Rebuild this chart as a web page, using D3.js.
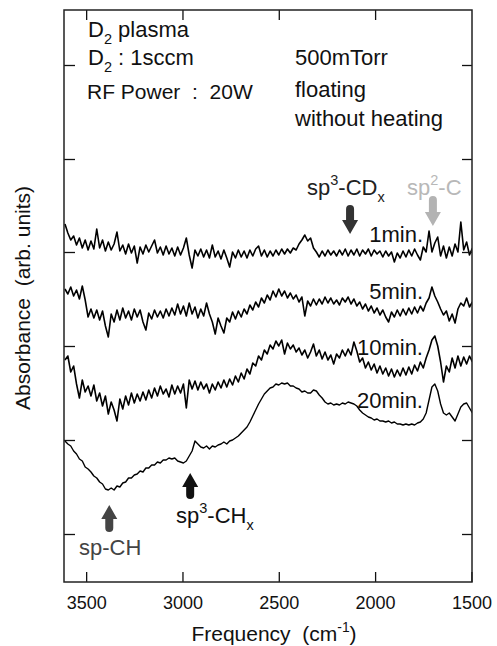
<!DOCTYPE html>
<html><head><meta charset="utf-8">
<script src="https://cdn.jsdelivr.net/npm/d3@7"></script>
<style>body{margin:0;background:#fff} svg{display:block} text{font-family:"Liberation Sans",Arial,Helvetica,sans-serif;white-space:pre}</style>
</head><body><svg id="c" width="497" height="646"></svg>
<script>
// Frequency sample grid (cm^-1), 15 cm^-1 step
const freq = d3.range(142).map(i => 3610 - 15 * i);

// Absorbance (arb. units, offset-stacked)
const a1min = [358,349,342,346,337,344,334,342,332,341,
 333,353,334,342,331,340,332,338,350,331,
 337,328,338,329,336,319,335,328,337,330,
 336,342,329,335,327,336,328,334,326,335,
 327,334,344,327,314,332,326,333,325,332,
 324,337,325,331,323,332,324,315,330,324,
 332,325,331,324,332,326,333,336,326,332,
 325,331,326,332,327,333,328,333,329,334,
 332,338,342,347,341,344,334,330,325,331,
 326,332,327,331,326,332,327,333,326,332,
 327,333,326,332,328,333,326,332,328,331,
 325,331,326,330,320,329,324,331,325,332,
 326,333,327,322,335,330,351,330,339,345,
 326,336,324,335,326,338,330,360,332,340,327,334];
const a5min = [293,288,295,286,292,283,296,282,265,273,
 264,272,262,271,256,245,268,260,272,262,
 274,264,271,262,273,265,272,260,252,269,
 263,272,265,271,264,273,266,274,267,278,
 268,276,266,279,268,275,264,273,266,279,
 268,260,248,264,256,249,264,260,270,263,
 271,265,273,268,277,272,280,275,284,279,
 287,282,291,285,293,286,291,284,289,283,
 287,280,285,266,281,276,283,277,283,278,
 285,279,284,278,282,277,284,280,285,278,
 283,276,280,273,278,271,276,269,274,267,
 272,265,260,270,265,272,266,273,267,274,
 268,275,269,276,271,279,284,295,286,280,
 273,267,271,261,268,259,273,279,276,284,275,280];
const a10min = [222,226,210,216,198,184,202,190,196,186,
 197,181,189,176,186,168,180,172,161,183,
 173,186,177,189,179,188,181,190,182,192,
 184,194,186,196,188,193,185,197,188,196,
 189,198,174,202,193,201,192,200,193,198,
 189,198,192,200,194,202,195,203,197,206,
 200,209,203,213,208,219,216,226,222,232,
 228,237,233,241,236,242,228,239,233,237,
 230,234,227,232,224,230,238,226,232,223,
 230,222,227,218,228,224,232,226,233,227,
 240,231,220,224,214,220,212,218,209,216,
 208,214,206,213,205,212,206,214,207,215,
 208,217,211,220,214,224,232,242,246,236,
 220,200,216,210,224,214,226,216,225,218,226,220];
const a20min = [141,138,136,131,128,123,121,115,113,110,
 106,104,100,98,93,92,94,92,96,95,
 99,100,104,104,107,108,111,110,114,114,
 117,117,120,119,122,122,124,123,124,121,
 120,119,121,126,131,141,138,135,134,136,
 133,136,135,137,138,140,138,141,142,144,
 146,149,152,155,160,166,172,178,183,188,
 191,194,195,198,197,199,198,199,196,196,
 194,193,190,191,189,189,192,191,187,184,
 180,178,179,177,178,177,179,178,180,179,
 178,176,172,169,167,165,164,162,163,161,
 161,160,161,159,160,158,158,157,158,157,
 158,157,159,160,163,169,182,195,198,191,
 178,169,167,169,165,161,168,175,178,179,174,169];

const seriesNames = ["1min.", "5min.", "10min.", "20min."];
const seriesValues = [a1min, a5min, a10min, a20min];
const xTicks = [3500, 3000, 2500, 2000, 1500];
const yTicks = [48, 142, 236, 330, 423, 517];

// assignments: label, frequency of band
const bandLabels = ["sp3-CDx", "sp2-C", "sp-CH", "sp3-CHx"];
const bandFreq = [2130, 1700, 3380, 2960];

const svg = d3.select("#c");
const L = 64, R = 472, T = 10, B = 582;
const x = d3.scaleLinear().domain([3615, 1497]).range([L, R]);
const y = d3.scaleLinear().domain([0, 572]).range([B, T]);

svg.append("defs").append("clipPath").attr("id", "clip")
  .append("rect").attr("x", L).attr("y", T).attr("width", R - L).attr("height", B - T);

// curves
const line = d3.line().x((d, i) => x(freq[i])).y(d => y(d));
const g = svg.append("g").attr("clip-path", "url(#clip)");
seriesValues.forEach((vals, k) => {
  g.append("path").datum(vals).attr("d", line)
    .attr("fill", "none").attr("stroke", "#000")
    .attr("stroke-width", k === 3 ? 1.4 : 1.6).attr("stroke-linejoin", "round");
});

// axes
function styleAxis(sel) {
  sel.select(".domain").remove();
  sel.selectAll(".tick line").attr("stroke", "#111").attr("stroke-width", 1.3);
  sel.selectAll(".tick text").attr("fill", "#111").attr("font-size", 18)
    .attr("font-family", '"Liberation Sans",Arial,sans-serif');
}
svg.append("g").attr("transform", `translate(0,${B})`)
  .call(d3.axisBottom(x).tickValues(xTicks).tickSizeInner(-10).tickSizeOuter(0).tickPadding(14).tickFormat(d3.format("d")))
  .call(styleAxis);
svg.append("g").attr("transform", `translate(0,${T})`)
  .call(d3.axisTop(x).tickValues(xTicks.slice(0, 4)).tickSizeInner(-10).tickSizeOuter(0).tickFormat(""))
  .call(styleAxis);
svg.append("g").attr("transform", `translate(${L},0)`)
  .call(d3.axisLeft(y).tickValues(yTicks).tickSizeInner(-11).tickSizeOuter(0).tickFormat(""))
  .call(styleAxis);
svg.append("g").attr("transform", `translate(${R},0)`)
  .call(d3.axisRight(y).tickValues(yTicks).tickSizeInner(-10).tickSizeOuter(0).tickFormat(""))
  .call(styleAxis);
svg.append("rect").attr("x", L).attr("y", T).attr("width", R - L).attr("height", B - T)
  .attr("fill", "none").attr("stroke", "#222").attr("stroke-width", 1.5);

// rich text helper: parts = [[text, kind]] kind: n normal, b sub, p sup
function rich(px, py, parts, size, color, anchor) {
  const t = svg.append("text").attr("x", px).attr("y", py).attr("font-size", size)
    .attr("fill", color).attr("text-anchor", anchor || "start");
  let cur = 0;
  parts.forEach(([s, k]) => {
    const target = k === "b" ? size * 0.3 : k === "p" ? -size * 0.45 : 0;
    t.append("tspan").attr("dy", target - cur)
      .attr("font-size", k === "n" ? size : size * 0.66).text(s);
    cur = target;
  });
  return t;
}

const fs = 22, ink = "#111";
rich(88, 37, [["D", "n"], ["2", "b"], [" plasma", "n"]], fs, ink);
rich(88, 65, [["D", "n"], ["2", "b"], [" : 1sccm", "n"]], fs, ink);
rich(87, 99, [["RF Power  :  20W", "n"]], fs - 1, ink);
rich(295, 65, [["500mTorr", "n"]], fs, ink);
rich(295, 97, [["floating", "n"]], fs, ink);
rich(295, 126, [["without heating", "n"]], fs, ink);

// series labels
const labelY = [242, 299, 355, 408];
seriesNames.forEach((s, k) => {
  svg.append("text").attr("x", 423).attr("y", labelY[k]).attr("text-anchor", "end")
    .attr("font-size", 22).attr("fill", ink).text(s);
});

// arrows
function arrow(cx, tipY, tailY, color) {
  const dir = tipY > tailY ? 1 : -1;   // 1 = pointing down
  const hl = 14, hw = 8, sw = 4;
  const hb = tipY - dir * hl;
  const p = d3.path();
  p.moveTo(cx - sw, tailY + dir * sw);
  p.quadraticCurveTo(cx - sw, tailY, cx, tailY);
  p.quadraticCurveTo(cx + sw, tailY, cx + sw, tailY + dir * sw);
  p.lineTo(cx + sw, hb); p.lineTo(cx + hw, hb); p.lineTo(cx, tipY);
  p.lineTo(cx - hw, hb); p.lineTo(cx - sw, hb); p.closePath();
  svg.append("path").attr("d", p.toString()).attr("fill", color);
}
arrow(x(bandFreq[0]), 234, 205, "#333");
arrow(x(bandFreq[1]), 226, 196, "#b3b3b3");
arrow(x(bandFreq[2]), 505, 532, "#444");
arrow(x(bandFreq[3]), 473, 499, "#111");

rich(307, 195, [["sp", "n"], ["3", "p"], ["-CD", "n"], ["x", "b"]], 22, "#222");
rich(407, 195, [["sp", "n"], ["2", "p"], ["-C", "n"]], 22, "#b8b8b8");
rich(79, 555, [["sp-CH", "n"]], 22, "#444");
rich(176, 523, [["sp", "n"], ["3", "p"], ["-CH", "n"], ["x", "b"]], 22, "#111");

// axis titles
rich(274, 641, [["Frequency  (cm", "n"], ["-1", "p"], [")", "n"]], 21, ink, "middle");
svg.append("text").attr("transform", "translate(30,298) rotate(-90)")
  .attr("text-anchor", "middle").attr("font-size", 21).attr("fill", ink)
  .text("Absorbance  (arb. units)");
</script></body></html>
